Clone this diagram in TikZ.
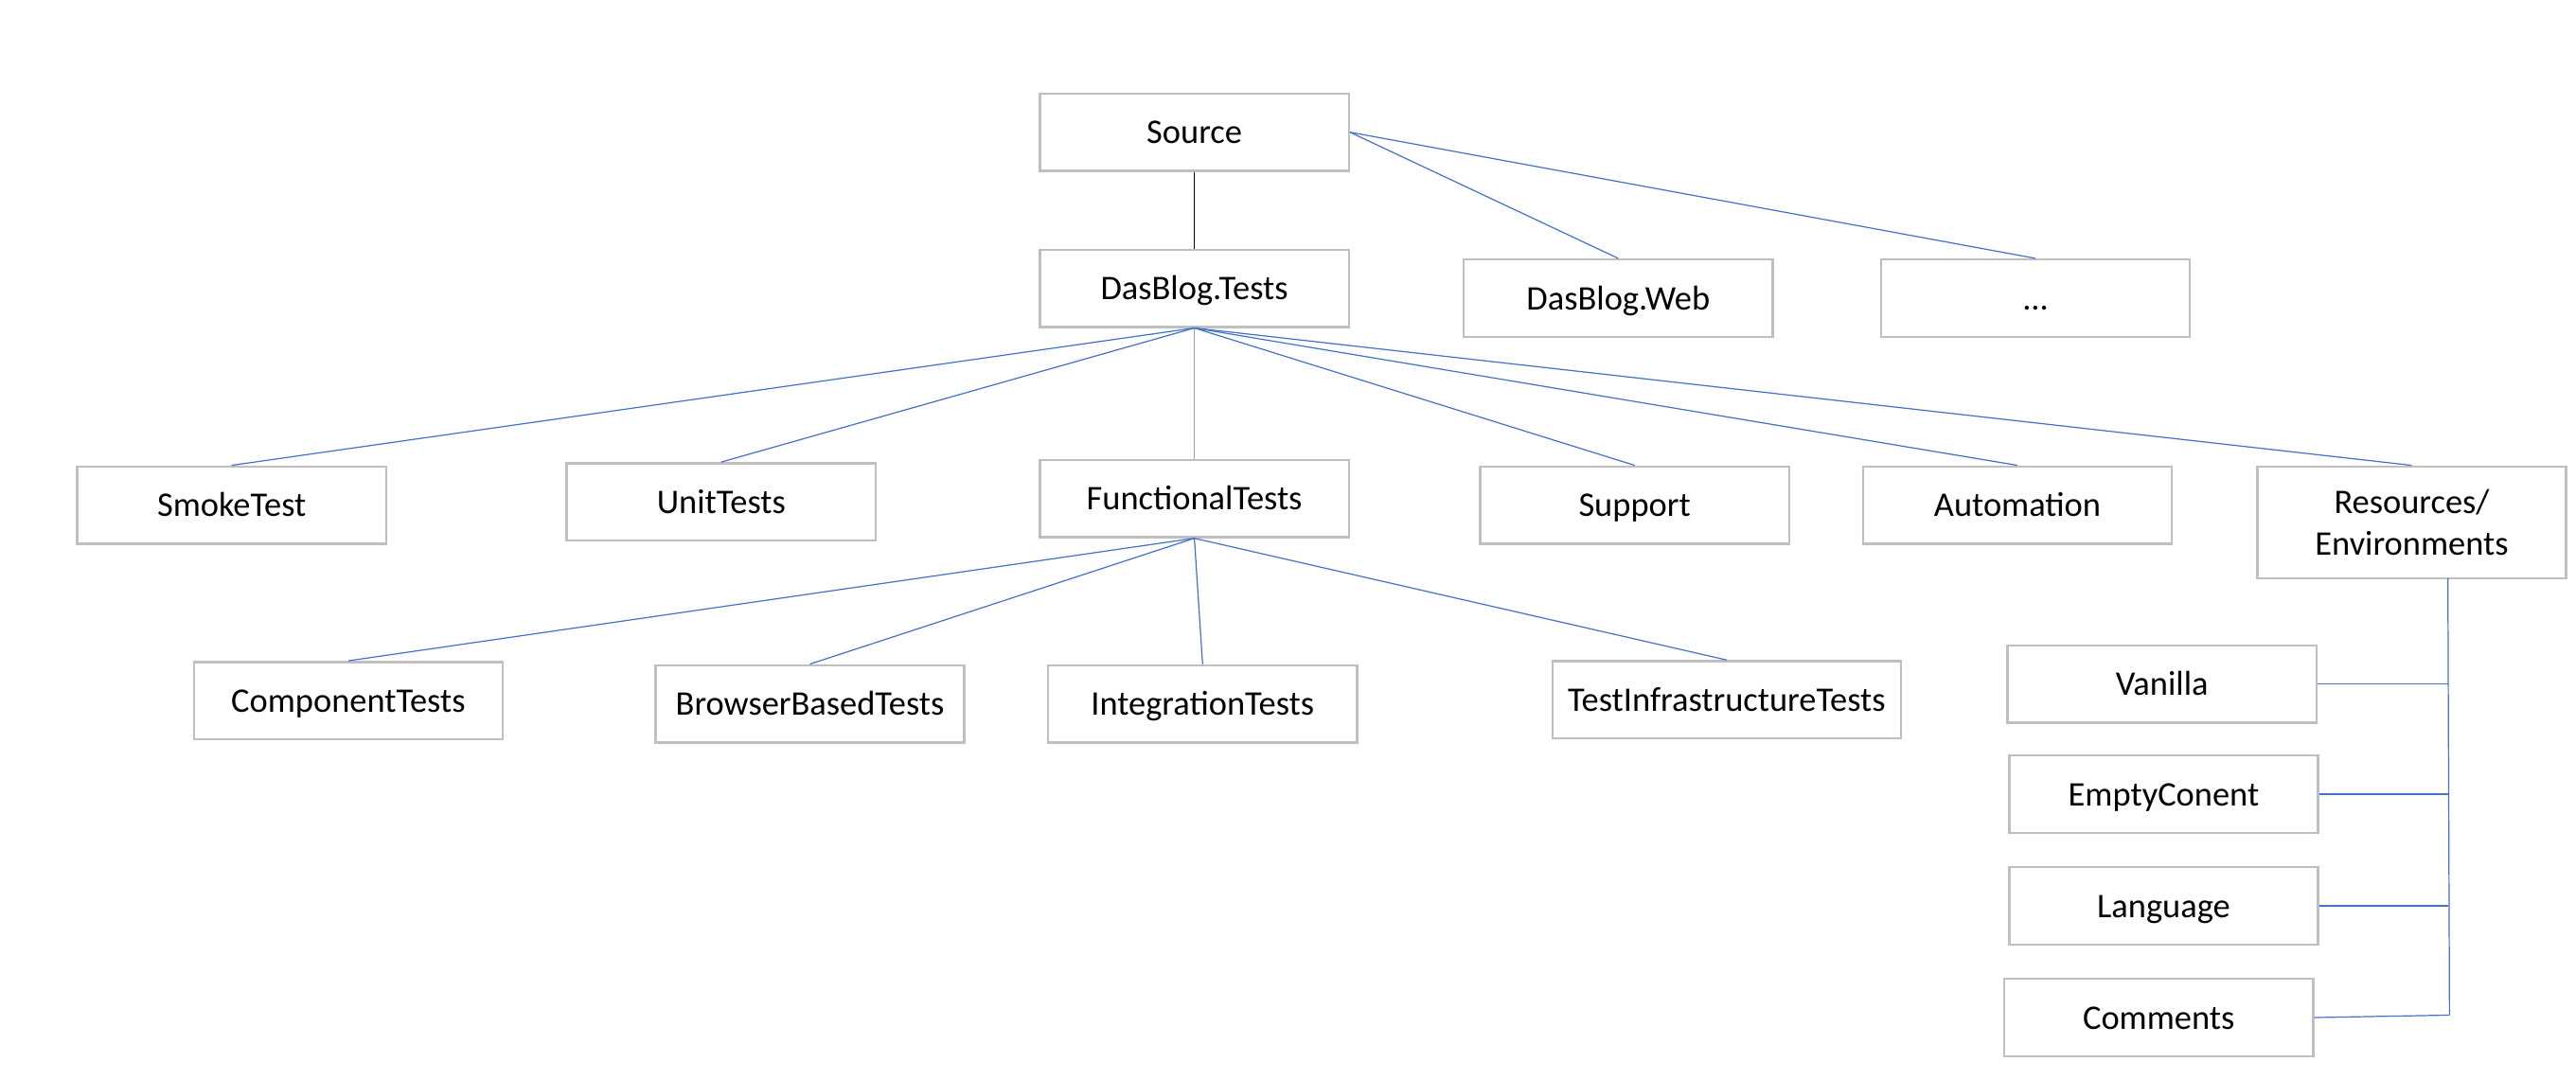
\documentclass[tikz,border=0pt]{standalone}
\usepackage{fontspec}
\setmainfont{Carlito}
\definecolor{boxgray}{RGB}{191,191,191}
\definecolor{linkblue}{RGB}{68,114,196}
\definecolor{linkgray}{RGB}{150,160,190}
\begin{document}
\begin{tikzpicture}[x=1pt,y=-1pt,
  box/.style={draw=boxgray,line width=1.4pt,fill=white,minimum width=188pt,minimum height=47pt,
    inner sep=2pt,font=\fontsize{21}{25}\selectfont,align=center,text=black,
    text height=16.5pt,text depth=2.5pt},
  twoline/.style={text height=,text depth=,minimum height=68pt},
  link/.style={draw=linkblue,line width=0.7pt},
  blink/.style={draw=black,line width=0.7pt},
  glink/.style={draw=linkgray,line width=0.6pt}]
\useasboundingbox (0,0) rectangle (1568,657.5);
\fill[white] (0,0) rectangle (1568,657.5);
% nodes
\node[box] (src) at (727,80.5) {Source};
\node[box] (tests) at (727,175.5) {DasBlog.Tests};
\node[box] (web) at (985,181.5) {DasBlog.Web};
\node[box] (dots) at (1239,181.5) {...};
\node[box] (smoke) at (141,307.5) {SmokeTest};
\node[box] (unit) at (439,305.5) {UnitTests};
\node[box] (func) at (727,303.5) {FunctionalTests};
\node[box] (support) at (995,307.5) {Support};
\node[box] (auto) at (1228,307.5) {Automation};
\node[box,twoline] (res) at (1468,318) {Resources/\\Environments};
\node[box] (comp) at (212,426.5) {ComponentTests};
\node[box] (browser) at (493,428.5) {BrowserBasedTests};
\node[box] (integ) at (732,428.5) {IntegrationTests};
\node[box,minimum width=212pt] (infra) at (1051,426) {TestInfrastructureTests};
\node[box] (van) at (1316,416.5) {Vanilla};
\node[box] (empty) at (1317,483.5) {EmptyConent};
\node[box] (lang) at (1317,551.5) {Language};
\node[box] (comm) at (1314,619.5) {Comments};
\coordinate (trunkTop) at (1490,352);
\coordinate (trunkBot) at (1491,618);
% connectors
\draw[blink] (src.south) -- (tests.north);
\draw[link] (src.east) -- (web.north);
\draw[link] (src.east) -- (dots.north);
\draw[link] (tests.south) -- (smoke.north);
\draw[link] (tests.south) -- (unit.north);
\draw[glink] (tests.south) -- (func.north);
\draw[link] (tests.south) -- (support.north);
\draw[link] (tests.south) -- (auto.north);
\draw[link] (tests.south) -- (res.north);
\draw[link] (func.south) -- (comp.north);
\draw[link] (func.south) -- (browser.north);
\draw[link] (func.south) -- (integ.north);
\draw[link] (func.south) -- (infra.north);
\draw[link] (trunkTop) -- (trunkBot);
\draw[link] (van.east) -- (van.east -| trunkTop);
\draw[link] (empty.east) -- (empty.east -| trunkTop);
\draw[link] (lang.east) -- (lang.east -| trunkTop);
\draw[link] (comm.east) -- (trunkBot);
\end{tikzpicture}
\end{document}
